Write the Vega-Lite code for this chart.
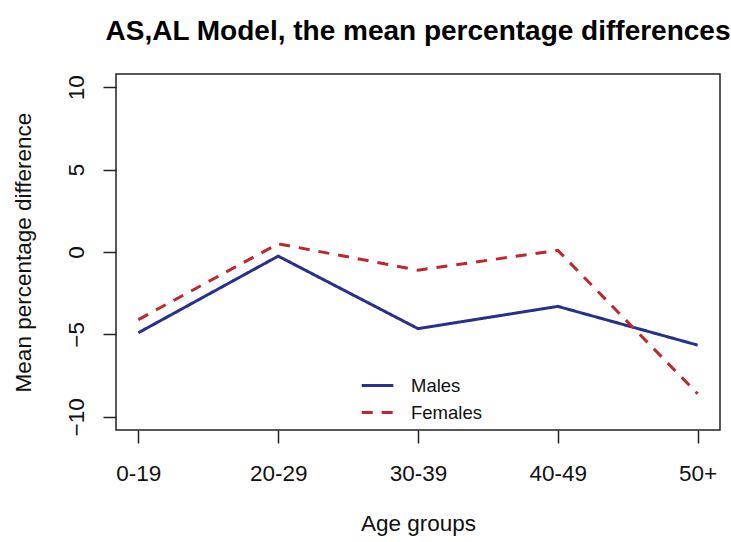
{
  "$schema": "https://vega.github.io/schema/vega-lite/v6.json",
  "width": 604,
  "height": 356,
  "autosize": "none",
  "padding": {"left": 116, "top": 74, "right": 11, "bottom": 112},
  "background": "white",
  "title": {
    "text": "AS,AL Model, the mean percentage differences",
    "fontSize": 28,
    "font": "Liberation Sans",
    "fontWeight": "bold",
    "anchor": "middle",
    "baseline": "alphabetic",
    "offset": 6,
    "color": "black"
  },
  "data": {
    "values": [
      {"age": "0-19", "sex": "Males", "diff": -4.9},
      {"age": "20-29", "sex": "Males", "diff": -0.25},
      {"age": "30-39", "sex": "Males", "diff": -4.65},
      {"age": "40-49", "sex": "Males", "diff": -3.3},
      {"age": "50+", "sex": "Males", "diff": -5.65},
      {"age": "0-19", "sex": "Females", "diff": -4.1},
      {"age": "20-29", "sex": "Females", "diff": 0.5},
      {"age": "30-39", "sex": "Females", "diff": -1.1},
      {"age": "40-49", "sex": "Females", "diff": 0.1},
      {"age": "50+", "sex": "Females", "diff": -8.6}
    ]
  },
  "mark": {"type": "line", "strokeWidth": 3},
  "encoding": {
    "x": {
      "field": "age",
      "type": "ordinal",
      "sort": ["0-19", "20-29", "30-39", "40-49", "50+"],
      "scale": {"type": "point", "padding": 0.16},
      "axis": {
        "title": "Age groups",
        "labelAngle": 0,
        "labelPadding": 19,
        "titleX": 302,
        "titleY": 93,
        "titleBaseline": "middle",
        "titleAnchor": "middle"
      }
    },
    "y": {
      "field": "diff",
      "type": "quantitative",
      "scale": {"domain": [-10.8, 10.8], "nice": false, "zero": false},
      "axis": {
        "values": [-10, -5, 0, 5, 10],
        "title": "Mean percentage difference",
        "labelAngle": 270,
        "labelAlign": "center",
        "labelBaseline": "alphabetic",
        "labelPadding": 20,
        "titleAngle": 270,
        "titleX": -93,
        "titleY": 178,
        "titleAlign": "center",
        "titleBaseline": "middle"
      }
    },
    "color": {
      "field": "sex",
      "type": "nominal",
      "scale": {"domain": ["Males", "Females"], "range": ["#25318a", "#c0272d"]},
      "legend": {"title": null}
    },
    "strokeDash": {
      "field": "sex",
      "type": "nominal",
      "scale": {"domain": ["Males", "Females"], "range": [[1, 0], [11, 9]]},
      "legend": {"title": null}
    }
  },
  "config": {
    "view": {"stroke": "#222222", "strokeWidth": 1.5},
    "axis": {
      "grid": false,
      "domain": false,
      "tickColor": "#222222",
      "tickWidth": 1.5,
      "tickSize": 13,
      "labelFont": "Liberation Sans",
      "labelFontSize": 22.5,
      "labelColor": "#111111",
      "titleFont": "Liberation Sans",
      "titleFontSize": 22.5,
      "titleFontWeight": "normal",
      "titleColor": "#111111"
    },
    "legend": {
      "orient": "none",
      "legendX": 244,
      "legendY": 294,
      "symbolType": "stroke",
      "symbolSize": 1000,
      "symbolStrokeWidth": 3,
      "labelFont": "Liberation Sans",
      "labelFontSize": 18.5,
      "labelColor": "#111111",
      "labelOffset": 16,
      "rowPadding": -6,
      "padding": 0
    }
  }
}
